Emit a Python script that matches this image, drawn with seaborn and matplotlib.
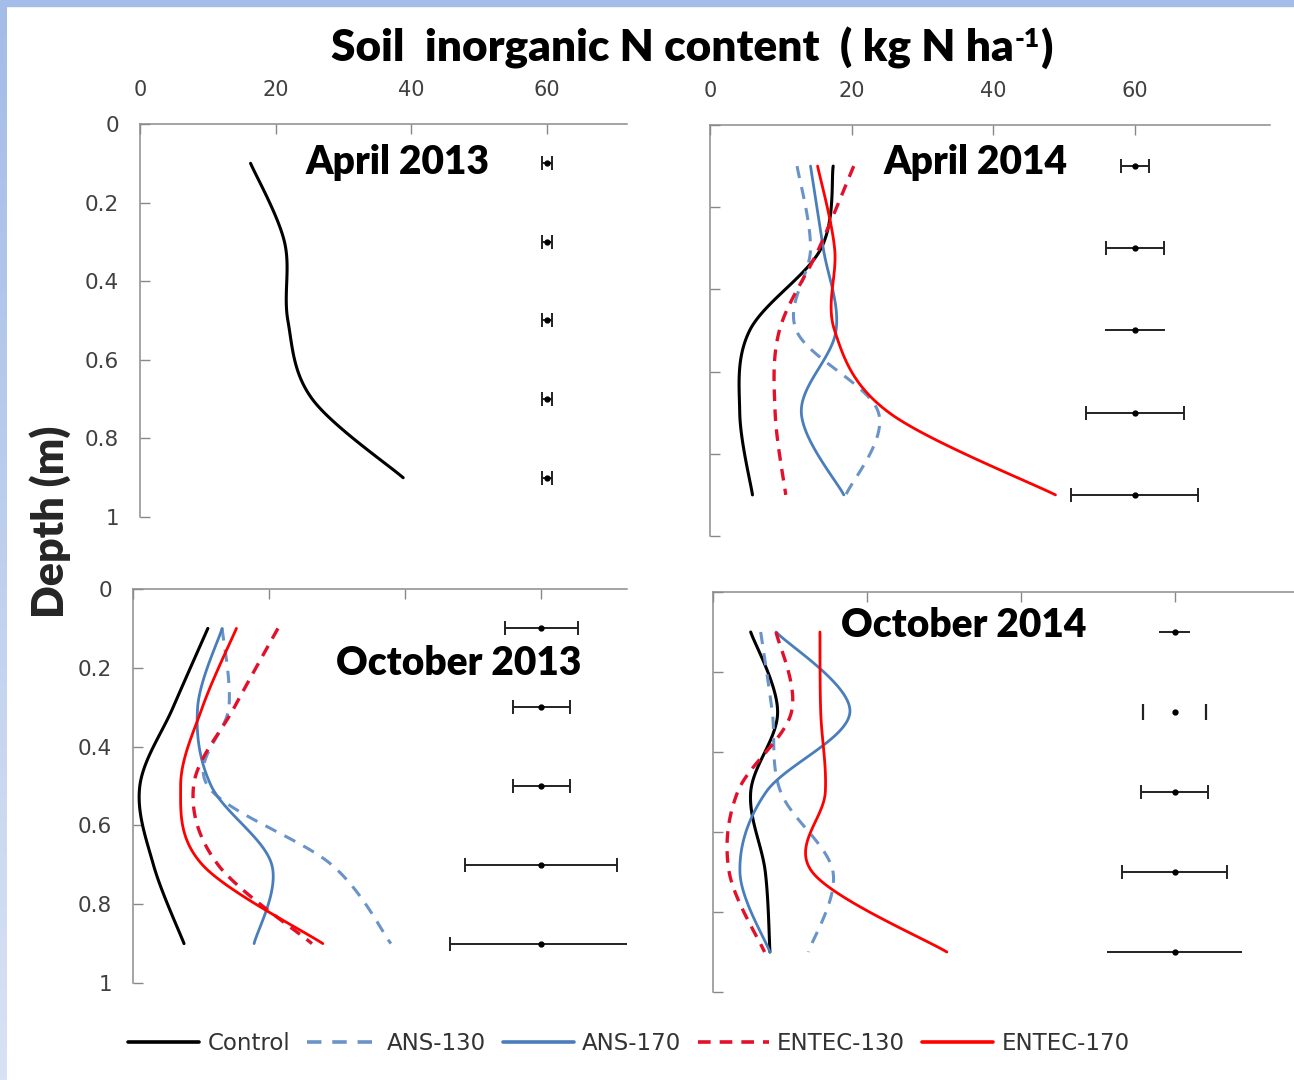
import numpy as np
import pandas as pd
import matplotlib
matplotlib.use("Agg")
import matplotlib.pyplot as plt
from matplotlib.lines import Line2D
from matplotlib.colors import LinearSegmentedColormap
import seaborn as sns

# ---------------- data ----------------
depth = [0.1, 0.3, 0.5, 0.7, 0.9]
treatments = ["Control", "ANS-130", "ANS-170", "ENTEC-130", "ENTEC-170"]

apr13_control = [16.3, 21.3, 21.8, 25.4, 38.8]
apr13_err = [0.8, 0.8, 0.8, 0.8, 0.8]

apr14_control = [17.4, 15.7, 5.6, 4.2, 6.0]
apr14_ans130 = [12.3, 14.2, 12.2, 23.8, 19.2]
apr14_ans170 = [14.2, 16.0, 17.8, 12.9, 18.9]
apr14_entec130 = [20.3, 15.4, 9.8, 9.2, 10.7]
apr14_entec170 = [15.2, 17.6, 17.6, 25.3, 48.8]
apr14_err = [2.0, 4.1, 4.2, 6.9, 9.0]

oct13_control = [11.0, 5.9, 1.0, 3.0, 7.5]
oct13_ans130 = [13.1, 14.1, 11.0, 29.2, 37.9]
oct13_ans170 = [13.1, 9.5, 11.5, 20.4, 17.8]
oct13_entec130 = [21.3, 14.9, 8.9, 12.5, 26.3]
oct13_entec170 = [15.2, 10.2, 7.0, 10.2, 27.9]
oct13_err = [5.4, 4.2, 4.2, 11.2, 13.4]

oct14_control = [4.9, 8.4, 4.9, 6.8, 7.4]
oct14_ans130 = [6.2, 7.7, 8.8, 15.6, 12.4]
oct14_ans170 = [8.2, 17.8, 6.9, 3.5, 7.4]
oct14_entec130 = [8.2, 10.2, 3.2, 2.1, 6.7]
oct14_entec170 = [13.9, 14.0, 14.6, 12.9, 30.4]
oct14_err = [2.0, 4.1, 4.4, 6.8, 8.8]

err_center = 60

panel_titles = ["April 2013", "April 2014", "October 2013", "October 2014"]
x_ticks = [0, 20, 40, 60]
y_ticks = [0, 0.2, 0.4, 0.6, 0.8, 1.0]
y_ticklabels = ["0", "0.2", "0.4", "0.6", "0.8", "1"]
title_main = "Soil  inorganic N content  ( kg N ha"
title_sup = "-1"
title_end = ")"

# ---------------- style ----------------
sns.set_theme(style="white")
plt.rcParams["font.family"] = ["Lato", "DejaVu Sans"]

styles = {
    "Control": dict(color="black", lw=2.2, ls="-"),
    "ANS-130": dict(color="#6A93C8", lw=2.2, ls=(0, (4, 3))),
    "ANS-170": dict(color="#4A7EBB", lw=2.0, ls="-"),
    "ENTEC-130": dict(color="#E3102C", lw=2.4, ls=(0, (3.5, 2.5))),
    "ENTEC-170": dict(color="#FF0000", lw=2.0, ls="-"),
}


def smooth(xs, ys, n=30):
    P = np.column_stack([xs, ys]).astype(float)
    P = np.vstack([P[0], P, P[-1]])
    out = []
    for i in range(1, len(P) - 2):
        p0, p1, p2, p3 = P[i - 1], P[i], P[i + 1], P[i + 2]
        c1 = p1 + (p2 - p0) / 6
        c2 = p2 - (p3 - p1) / 6
        t = np.linspace(0, 1, n)[:, None]
        seg = (1 - t) ** 3 * p1 + 3 * (1 - t) ** 2 * t * c1 + 3 * (1 - t) * t ** 2 * c2 + t ** 3 * p2
        out.append(seg if i == 1 else seg[1:])
    return np.vstack(out)


W, H = 1294, 1080
fig = plt.figure(figsize=(W / 100, H / 100), dpi=100)
fig.patch.set_facecolor("white")

# slide decoration
fig.patches.append(plt.Rectangle((0, 1 - 6 / H), 1, 6 / H, transform=fig.transFigure,
                                 color="#A4BCE8", zorder=0))
gax = fig.add_axes([0, 0, 7 / W, 1 - 6 / H])
cmap = LinearSegmentedColormap.from_list("g", ["#A4BCE8", "#D8E2F4"])
gax.imshow(np.linspace(0, 1, 200)[:, None], aspect="auto", cmap=cmap)
gax.axis("off")


def fa(l, t, r, b):
    return [l / W, 1 - b / H, (r - l) / W, (b - t) / H]


panels = [
    dict(rect=fa(140, 124, 627, 517), xmax=71.8, series={"Control": apr13_control},
         err=apr13_err, xlabels=True, ylabels=True, tpos=(0.528, 0.901),
         caps=[True] * 5, bars=[True] * 5),
    dict(rect=fa(710, 125, 1270, 536), xmax=79.1,
         series={"Control": apr14_control, "ANS-130": apr14_ans130, "ANS-170": apr14_ans170,
                 "ENTEC-130": apr14_entec130, "ENTEC-170": apr14_entec170},
         err=apr14_err, xlabels=True, ylabels=False, tpos=(0.475, 0.908),
         caps=[True, True, False, True, True], bars=[True] * 5),
    dict(rect=fa(133, 589, 627, 983), xmax=72.6,
         series={"Control": oct13_control, "ANS-130": oct13_ans130, "ANS-170": oct13_ans170,
                 "ENTEC-130": oct13_entec130, "ENTEC-170": oct13_entec170},
         err=oct13_err, xlabels=False, ylabels=True, tpos=(0.66, 0.81),
         caps=[True] * 5, bars=[True] * 5),
    dict(rect=fa(713, 592, 1300, 992), xmax=76.3,
         series={"Control": oct14_control, "ANS-130": oct14_ans130, "ANS-170": oct14_ans170,
                 "ENTEC-130": oct14_entec130, "ENTEC-170": oct14_entec170},
         err=oct14_err, xlabels=False, ylabels=False, tpos=(0.427, 0.917),
         caps=[False, True, True, True, False], bars=[True, False, True, True, True]),
]

for p, title in zip(panels, panel_titles):
    ax = fig.add_axes(p["rect"])
    ax.set_facecolor("none")
    for name in treatments:
        if name not in p["series"]:
            continue
        vals = p["series"][name]
        c = smooth(vals, depth)
        st = styles[name]
        sns.lineplot(x=c[:, 0], y=c[:, 1], sort=False, estimator=None, ax=ax,
                     color=st["color"], linewidth=st["lw"], linestyle=st["ls"])
    for d, e, cap, bar in zip(depth, p["err"], p["caps"], p["bars"]):
        ax.errorbar([err_center], [d], xerr=[e], fmt="o", ms=3.5, color="black",
                    ecolor="#222222" if bar else "none", elinewidth=1.4,
                    capsize=5 if (cap and bar) else 0, capthick=1.4)
        if cap and not bar:
            ax.plot([err_center - e, err_center + e], [d, d], ls="none", marker="|",
                    ms=11, mew=1.6, color="#222222")
    ax.set_xlim(0, p["xmax"])
    ax.set_ylim(1, 0)
    ax.set_xticks(x_ticks)
    ax.set_yticks(y_ticks)
    ax.xaxis.tick_top()
    if p["xlabels"]:
        ax.set_xticklabels([str(v) for v in x_ticks], family="DejaVu Sans", fontsize=15,
                           color="#404040")
    else:
        ax.set_xticklabels([])
    if p["ylabels"]:
        ax.set_yticklabels(y_ticklabels, family="DejaVu Sans", fontsize=15.5, color="#404040")
    else:
        ax.set_yticklabels([])
    ax.tick_params(axis="x", which="both", top=True, bottom=False, direction="in",
                   length=7, width=1, color="#888888", pad=17)
    ax.tick_params(axis="y", which="both", left=True, direction="in", length=7, width=1,
                   color="#888888", pad=15)
    for s in ["right", "bottom"]:
        ax.spines[s].set_visible(False)
    for s in ["left", "top"]:
        ax.spines[s].set_color("#8C8C8C")
        ax.spines[s].set_linewidth(1.1)
    ax.set_xlabel("")
    ax.set_ylabel("")
    ax.text(p["tpos"][0], p["tpos"][1], title, transform=ax.transAxes, ha="center",
            va="center", fontsize=28, fontweight="heavy", color="black")

# ---- figure title with superscript, laid out by measuring text widths ----
renderer = fig.canvas.get_renderer()
base_fs = 30
tkw = dict(ha="left", va="baseline", fontweight="heavy", color="black")
t1 = fig.text(0, 1 - 62 / H, title_main, fontsize=base_fs, **tkw)
t2 = fig.text(0, 1 - 62 / H, title_sup, fontsize=base_fs * 0.6, **tkw)
t3 = fig.text(0, 1 - 62 / H, title_end, fontsize=base_fs, **tkw)
w = [t.get_window_extent(renderer).width for t in (t1, t2, t3)]
scale = 718 / sum(w)
for t in (t1, t3):
    t.set_fontsize(base_fs * scale)
t2.set_fontsize(base_fs * 0.6 * scale)
w = [t.get_window_extent(renderer).width for t in (t1, t2, t3)]
x0 = 691 - sum(w) / 2
t1.set_x(x0 / W)
t2.set_x((x0 + w[0] + 1) / W)
t2.set_y(1 - 47 / H)
t3.set_x((x0 + w[0] + w[1] + 2) / W)

fig.text(50 / W, 1 - 522 / H, "Depth (m)", rotation=90, ha="center", va="center",
         fontsize=31, fontweight="heavy")

handles = [Line2D([0], [0], color=styles[n]["color"], lw=2.6, ls=styles[n]["ls"])
           for n in treatments]
fig.legend(handles, treatments, loc="center", bbox_to_anchor=(629 / W, 1 - 1044 / H),
           ncol=5, frameon=False, handlelength=3.1, handletextpad=0.35, columnspacing=0.75,
           prop=dict(family="DejaVu Sans", size=16.5), labelcolor="#333333")

fig.savefig("out.png", dpi=100)
